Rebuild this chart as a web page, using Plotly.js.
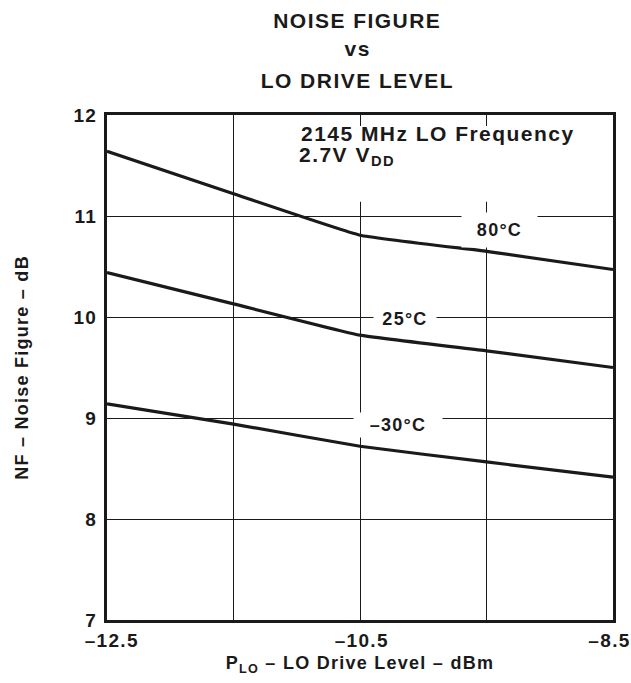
<!DOCTYPE html>
<html><head><meta charset="utf-8">
<script src="https://cdn.plot.ly/plotly-3.0.1.min.js"></script>
<style>html,body{margin:0;padding:0;background:#fff;} #chart svg text{letter-spacing:0.07em;}</style>
</head><body>
<div id="chart" style="width:631px;height:683px;"></div>
<script>
const drive = [-12.5, -11.5, -10.5, -9.5, -8.5];
const nf80 = [11.64, 11.22, 10.81, 10.65, 10.47];
const nf25 = [10.44, 10.13, 9.82, 9.665, 9.50];
const nfm30 = [9.14, 8.94, 8.72, 8.565, 8.415];
const xTickVals = [-12.5, -10.5, -8.5];
const xTickText = ["–12.5", "–10.5", "–8.5"];
const yTickVals = [7, 8, 9, 10, 11, 12];
const titleLines = ['NOISE FIGURE', 'vs', 'LO DRIVE LEVEL'];
const curveLabels = ['80°C', '25°C', '–30°C'];
const noteLines = ['2145 MHz LO Frequency', '2.7V V<sub>DD</sub>'];

const F = "Liberation Sans, Arial, Helvetica, sans-serif";
const INK = '#1a1a1a';
const lineStyle = {color: INK, width: 3.2, shape: 'spline', smoothing: 0.3};
const traces = [
  {x: drive, y: nf80, mode: 'lines', line: lineStyle, name: curveLabels[0]},
  {x: drive, y: nf25, mode: 'lines', line: lineStyle, name: curveLabels[1]},
  {x: drive, y: nfm30, mode: 'lines', line: lineStyle, name: curveLabels[2]}
];
const lab = (x, y, t, w, h) => ({x: x, y: y, xref: 'x', yref: 'y', text: t, showarrow: false,
  bgcolor: '#fff', borderpad: 0, width: w, height: h,
  font: {family: F, size: 18, weight: 'bold', color: INK}});
const ttl = (y, t) => ({x: 0.496, y: y, xref: 'paper', yref: 'paper', text: t, showarrow: false,
  xanchor: 'center', yanchor: 'middle', font: {family: F, size: 21, weight: 'bold', color: INK}});
const note = (x, y, t) => ({x: x, y: y, xref: 'x', yref: 'y', xanchor: 'left', yanchor: 'middle', align: 'left',
  text: t, showarrow: false, font: {family: F, size: 21, weight: 'bold', color: INK}});
const tickShift = [5, 2, -4];
const xTickAnn = xTickVals.map((v, i) => ({x: v, y: 0, xref: 'x', yref: 'paper', yanchor: 'middle',
  xanchor: 'center', yshift: -20, xshift: tickShift[i], text: xTickText[i], showarrow: false,
  font: {family: F, size: 19, weight: 'bold', color: INK}}));
const layout = {
  width: 631, height: 683,
  margin: {l: 107, r: 18, t: 115, b: 63},
  paper_bgcolor: '#fff', plot_bgcolor: '#fff',
  showlegend: false,
  xaxis: {range: [-12.5, -8.5], tickmode: 'linear', tick0: -12.5, dtick: 1, showticklabels: false, showgrid: true,
    gridcolor: INK, gridwidth: 1, showline: true, mirror: true, linecolor: INK, linewidth: 3,
    ticks: '', zeroline: false, fixedrange: true,
    title: {text: 'P<sub>LO</sub> – LO Drive Level – dBm', standoff: 35,
      font: {family: F, size: 18, weight: 'bold', color: INK}}},
  yaxis: {range: [7, 12], tickvals: yTickVals, showgrid: true,
    gridcolor: INK, gridwidth: 1, showline: true, mirror: true, linecolor: INK, linewidth: 3,
    ticks: '', zeroline: false, fixedrange: true, ticklabelstandoff: 3,
    tickfont: {family: F, size: 19, weight: 'bold', color: INK},
    title: {text: 'NF – Noise Figure – dB', standoff: 43,
      font: {family: F, size: 18, weight: 'bold', color: INK}}},
  shapes: [
    {type: 'rect', xref: 'x', yref: 'y', x0: -11.0, x1: -9.1, y0: 11.14, y1: 11.89,
      fillcolor: '#fff', line: {width: 0}, layer: 'between'}
  ],
  annotations: [
    ttl(1.188, titleLines[0]),
    ttl(1.131, titleLines[1]),
    ttl(1.069, titleLines[2]),
    note(-10.98, 11.815, noteLines[0]),
    note(-10.995, 11.59, noteLines[1]),
    lab(-9.4, 10.86, curveLabels[0], 75, 34),
    lab(-10.146, 9.98, curveLabels[1], 62, 24),
    lab(-10.2, 8.93, curveLabels[2], 88, 24)
  ].concat(xTickAnn)
};
Plotly.newPlot('chart', traces, layout, {displayModeBar: false, staticPlot: true});
</script>
</body></html>
